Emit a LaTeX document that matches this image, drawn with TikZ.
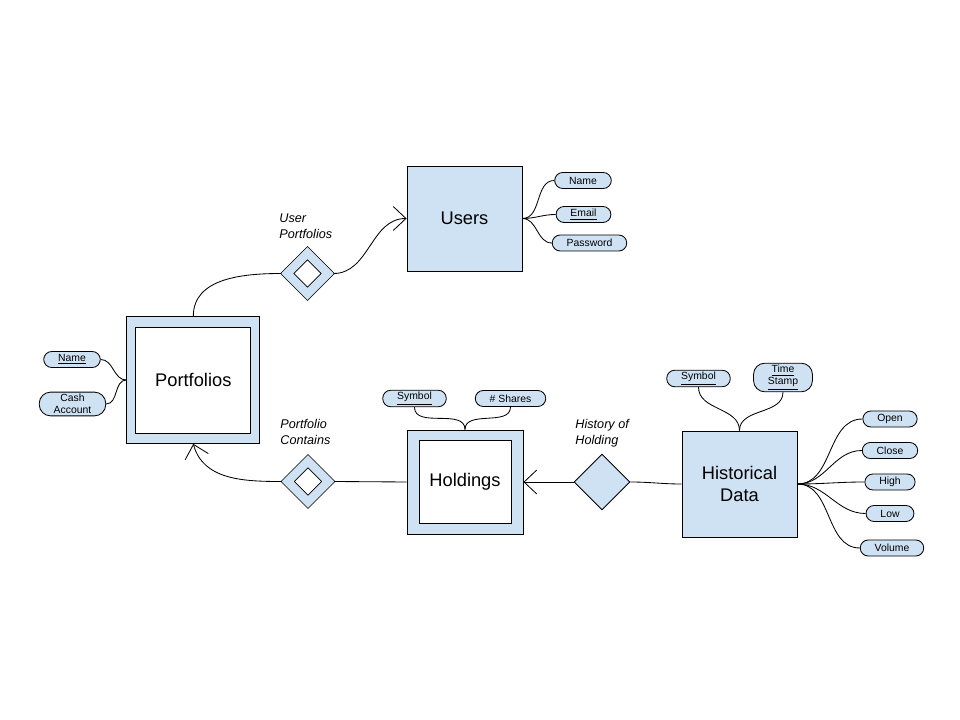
\documentclass[tikz,border=0pt]{standalone}
\usepackage{fontspec}
\setmainfont{Liberation Sans}
\usetikzlibrary{shapes.geometric,arrows.meta}
\definecolor{erblue}{HTML}{CFE2F3}
\tikzset{
  entity/.style={draw, fill=erblue, minimum width=2.875cm, minimum height=2.625cm, align=center, font=\fontsize{13}{15}\selectfont},
  weak/.style n args={2}{entity, path picture={
      \draw [fill=white] ([shift={(#1,-#2)}]path picture bounding box.north west)
        rectangle ([shift={(-#1,#2)}]path picture bounding box.south east);}},
  rel/.style={diamond, aspect=1, draw, fill=erblue, inner sep=0pt, minimum size=1.4cm},
  weakrel/.style={rel, fill=white, double=erblue, double distance=0.21cm, minimum size=1.1cm, outer sep=0.1cm},
  attr/.style={draw, fill=erblue, rounded corners=0.2cm, minimum height=0.4cm, inner xsep=0.36cm, inner ysep=0.05cm, align=center, font=\fontsize{7.4}{8.6}\selectfont},
  rlabel/.style={anchor=north west, inner sep=0pt, align=left, font=\fontsize{9}{11.3}\selectfont\itshape},
  many/.style={-{Straight Barb[length=9pt, width=17pt]}}
}
\begin{document}
\begin{tikzpicture}[x=0.025cm, y=-0.025cm, line width=0.6pt]
  \useasboundingbox (0,0) rectangle (960,720);
  % entities
  \node [entity] (users) at (464.5,218.5) {Users};
  \node [weak={0.23cm}{0.26cm}, minimum width=3.33cm, minimum height=3.17cm] (portfolios) at (193.3,380) {Portfolios};
  \node [weak={0.3cm}{0.27cm}, minimum width=2.9cm, minimum height=2.6cm] (holdings) at (465,482) {Holdings};
  \node [entity, minimum height=2.65cm] (histdata) at (739.5,484) {Historical\\Data};
  % relations
  \node [weakrel] (userport) at (307.5,273.5) {};
  \node [weakrel] (portcont) at (308,481.5) {};
  \node [rel] (histhold) at (602,482) {};
  \node [rlabel] (userportLbl) at (279,213) {User\\Portfolios};
  \node [rlabel] (portcontLbl) at (280,419) {Portfolio\\Contains};
  \node [rlabel] (histholdLbl) at (575,419) {History of\\Holding};
  % attributes
  \node [attr] (uName) at (583,180.5) {Name};
  \node [attr] (uEmail) at (583.5,214.5) {\underline{Email}};
  \node [attr] (uPass) at (589.5,243) {Password};
  \node [attr] (pName) at (72,359.5) {\underline{Name}};
  \node [attr, rounded corners=0.28cm] (pCash) at (72.5,404) {Cash\\Account};
  \node [attr] (hSym) at (414.5,398.5) {\underline{Symbol}};
  \node [attr] (hShares) at (510.5,398.5) {\# Shares};
  \node [attr] (dSym) at (698.5,378.5) {\underline{Symbol}};
  \node [attr, rounded corners=0.28cm] (dTime) at (783,377.5) {\underline{Time}\\\underline{Stamp}};
  \node [attr] (dOpen) at (890,419) {Open};
  \node [attr] (dClose) at (890,450.5) {Close};
  \node [attr] (dHigh) at (890,482) {High};
  \node [attr] (dLow) at (890,513.5) {Low};
  \node [attr] (dVol) at (892,548) {Volume};
  % connectors
  \draw (portfolios.north) to[out=90, in=180] (userport.west);
  \draw [many] (userport.east) to[out=0, in=180] (users.west);
  \draw [many] (portcont.west) to[out=180, in=-75] (portfolios.south);
  \draw (portcont.east) -- (holdings.west);
  \draw [many] (histhold.west) -- (holdings.east);
  \draw (histhold.east) to[out=0, in=180] (histdata.west);
  \foreach \a in {uName,uEmail,uPass}
    \draw (users.east) to[out=0, in=180] (\a.west);
  \foreach \a in {pName,pCash}
    \draw (portfolios.west) to[out=180, in=0] (\a.east);
  \foreach \a in {hSym,hShares}
    \draw (holdings.north) to[out=90, in=-90] (\a.south);
  \foreach \a in {dSym,dTime}
    \draw (histdata.north) to[out=90, in=-90] (\a.south);
  \foreach \a in {dOpen,dClose,dHigh,dLow,dVol}
    \draw (histdata.east) to[out=0, in=180] (\a.west);
\end{tikzpicture}
\end{document}
